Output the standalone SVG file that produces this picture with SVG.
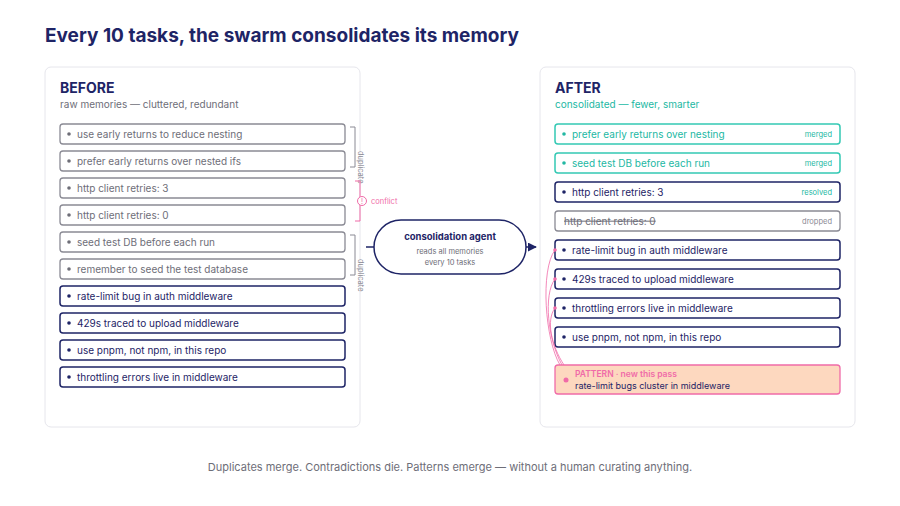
<svg xmlns="http://www.w3.org/2000/svg" width="900" height="506" viewBox="0 0 900 506">
<style>
text{font-family:Inter,"Noto Sans",sans-serif}
.card{fill:#fff;stroke:#e6e6ec;stroke-width:1}
.rg{fill:#fff;stroke:#8a8a94;stroke-width:1.3}
.rn{fill:#fff;stroke:#1e2466;stroke-width:1.5}
.rt{fill:#fff;stroke:#33c9b4;stroke-width:1.5}
.tg{font-size:10px;fill:#6e6e78}
.tn{font-size:10px;fill:#1e2466}
.tt{font-size:10px;fill:#22b8a3}
.tag{font-size:7.5px;text-anchor:end}
.br{fill:none;stroke:#8a8a94;stroke-width:1}
.vt{font-size:7.5px;fill:#8a8a94}
</style>
<defs><marker id="ar" viewBox="0 0 10 10" refX="9" refY="5" markerWidth="6" markerHeight="6" orient="auto"><path d="M0,0L10,5L0,10z" fill="#1e2466"/></marker></defs>
<rect width="900" height="506" fill="#fff"/>
<text x="45" y="42" font-size="19" font-weight="700" fill="#1e2466">Every 10 tasks, the swarm consolidates its memory</text>

<g id="before">
<rect class="card" x="45" y="67" width="315" height="360" rx="6"/>
<text x="60" y="93" font-size="14" font-weight="700" fill="#1e2466">BEFORE</text>
<text x="60" y="108" font-size="10" fill="#6e6e78">raw memories — cluttered, redundant</text>
<g id="b1"><rect class="rg" x="60" y="124" width="285" height="20" rx="3"/><circle cx="69" cy="134" r="1.8" fill="#6e6e78"/><text class="tg" x="77" y="137.5">use early returns to reduce nesting</text></g>
<g id="b2"><rect class="rg" x="60" y="151" width="285" height="20" rx="3"/><circle cx="69" cy="161" r="1.8" fill="#6e6e78"/><text class="tg" x="77" y="164.5">prefer early returns over nested ifs</text></g>
<g id="b3"><rect class="rg" x="60" y="178" width="285" height="20" rx="3"/><circle cx="69" cy="188" r="1.8" fill="#6e6e78"/><text class="tg" x="77" y="191.5">http client retries: 3</text></g>
<g id="b4"><rect class="rg" x="60" y="205" width="285" height="20" rx="3"/><circle cx="69" cy="215" r="1.8" fill="#6e6e78"/><text class="tg" x="77" y="218.5">http client retries: 0</text></g>
<g id="b5"><rect class="rg" x="60" y="232" width="285" height="20" rx="3"/><circle cx="69" cy="242" r="1.8" fill="#6e6e78"/><text class="tg" x="77" y="245.5">seed test DB before each run</text></g>
<g id="b6"><rect class="rg" x="60" y="259" width="285" height="20" rx="3"/><circle cx="69" cy="269" r="1.8" fill="#6e6e78"/><text class="tg" x="77" y="272.5">remember to seed the test database</text></g>
<g id="b7"><rect class="rn" x="60" y="286" width="285" height="20" rx="3"/><circle cx="69" cy="296" r="1.8" fill="#1e2466"/><text class="tn" x="77" y="299.5">rate-limit bug in auth middleware</text></g>
<g id="b8"><rect class="rn" x="60" y="313" width="285" height="20" rx="3"/><circle cx="69" cy="323" r="1.8" fill="#1e2466"/><text class="tn" x="77" y="326.5">429s traced to upload middleware</text></g>
<g id="b9"><rect class="rn" x="60" y="340" width="285" height="20" rx="3"/><circle cx="69" cy="350" r="1.8" fill="#1e2466"/><text class="tn" x="77" y="353.5">use pnpm, not npm, in this repo</text></g>
<g id="b10"><rect class="rn" x="60" y="367" width="285" height="20" rx="3"/><circle cx="69" cy="377" r="1.8" fill="#1e2466"/><text class="tn" x="77" y="380.5">throttling errors live in middleware</text></g>
<path class="br" d="M350,127H355V167H350"/>
<text class="vt" transform="translate(358,151) rotate(90)">duplicate</text>
<path d="M355,181H360V221H355" fill="none" stroke="#f06ba8" stroke-width="1"/>
<circle cx="362" cy="201" r="4.5" fill="#fff" stroke="#f06ba8" stroke-width="1"/>
<text x="362" y="204" font-size="7" fill="#f06ba8" text-anchor="middle">!</text>
<text x="371" y="204" font-size="7.5" fill="#f06ba8">conflict</text>
<path class="br" d="M350,235H355V275H350"/>
<text class="vt" transform="translate(358,259) rotate(90)">duplicate</text>
</g>

<g id="agent">
<rect x="374" y="220" width="152" height="54" rx="27" fill="#fff" stroke="#1e2466" stroke-width="1.5"/>
<text x="450" y="240" font-size="9.5" font-weight="700" fill="#1e2466" text-anchor="middle">consolidation agent</text>
<text x="450" y="254" font-size="7.5" fill="#6e6e78" text-anchor="middle">reads all memories</text>
<text x="450" y="265" font-size="7.5" fill="#6e6e78" text-anchor="middle">every 10 tasks</text>
</g>

<g id="after">
<rect class="card" x="540" y="67" width="315" height="360" rx="6"/>
<text x="555" y="93" font-size="14" font-weight="700" fill="#1e2466">AFTER</text>
<text x="555" y="108" font-size="10" fill="#22b8a3">consolidated — fewer, smarter</text>
<g id="a1"><rect class="rt" x="555" y="124" width="285" height="20" rx="3"/><circle cx="564" cy="134" r="1.8" fill="#22b8a3"/><text class="tt" x="572" y="137.5">prefer early returns over nesting</text><text class="tag" x="832" y="137" fill="#22b8a3">merged</text></g>
<g id="a2"><rect class="rt" x="555" y="153" width="285" height="20" rx="3"/><circle cx="564" cy="163" r="1.8" fill="#22b8a3"/><text class="tt" x="572" y="166.5">seed test DB before each run</text><text class="tag" x="832" y="166" fill="#22b8a3">merged</text></g>
<g id="a3"><rect class="rn" x="555" y="182" width="285" height="20" rx="3"/><circle cx="564" cy="192" r="1.8" fill="#1e2466"/><text class="tn" x="572" y="195.5">http client retries: 3</text><text class="tag" x="832" y="195" fill="#22b8a3">resolved</text></g>
<g id="a4"><rect class="rg" x="555" y="211" width="285" height="20" rx="3"/><text class="tg" x="564" y="224.5" text-decoration="line-through">http client retries: 0</text><text class="tag" x="832" y="224" fill="#8a8a94">dropped</text></g>
<g id="a5"><rect class="rn" x="555" y="240" width="285" height="20" rx="3"/><circle cx="564" cy="250" r="1.8" fill="#1e2466"/><text class="tn" x="572" y="253.5">rate-limit bug in auth middleware</text></g>
<g id="a6"><rect class="rn" x="555" y="269" width="285" height="20" rx="3"/><circle cx="564" cy="279" r="1.8" fill="#1e2466"/><text class="tn" x="572" y="282.5">429s traced to upload middleware</text></g>
<g id="a7"><rect class="rn" x="555" y="298" width="285" height="20" rx="3"/><circle cx="564" cy="308" r="1.8" fill="#1e2466"/><text class="tn" x="572" y="311.5">throttling errors live in middleware</text></g>
<g id="a8"><rect class="rn" x="555" y="327" width="285" height="20" rx="3"/><circle cx="564" cy="337" r="1.8" fill="#1e2466"/><text class="tn" x="572" y="340.5">use pnpm, not npm, in this repo</text></g>
<g id="pattern"><rect x="555" y="365" width="285" height="29" rx="3" fill="#fdd8bf" stroke="#f06ba8" stroke-width="1.3"/><circle cx="566" cy="380" r="2.5" fill="#f06ba8"/><text x="575" y="377" font-size="8.5" font-weight="600" fill="#f06ba8">PATTERN · new this pass</text><text x="575" y="388.5" font-size="9" fill="#1e2466">rate-limit bugs cluster in middleware</text></g>
</g>

<g id="connectors" fill="none">
<line x1="366" y1="247" x2="374" y2="247" stroke="#1e2466" stroke-width="1.5"/>
<line x1="526" y1="247" x2="536" y2="247" stroke="#1e2466" stroke-width="1.5" marker-end="url(#ar)"/>
<g stroke="#f06ba8" stroke-width="0.8">
<path d="M560,365C545,340 540,270 555,250"/>
<path d="M562,365C548,340 543,295 555,279"/>
<path d="M564,365C551,345 546,320 555,308"/>
</g>
<g fill="#f06ba8"><circle cx="555" cy="250" r="1.8"/><circle cx="555" cy="279" r="1.8"/><circle cx="555" cy="308" r="1.8"/></g>
</g>
<text x="450" y="471" font-size="11" fill="#6e6e78" text-anchor="middle">Duplicates merge. Contradictions die. Patterns emerge — without a human curating anything.</text>
</svg>
